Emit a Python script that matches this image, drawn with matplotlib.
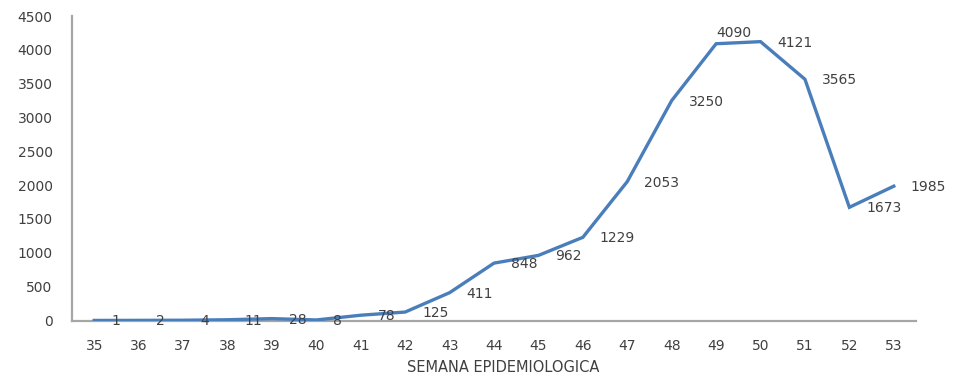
import matplotlib
matplotlib.use("Agg")
import matplotlib.pyplot as plt

# Weekly case counts by epidemiological week
weeks = [35, 36, 37, 38, 39, 40, 41, 42, 43, 44, 45, 46, 47, 48, 49, 50, 51, 52, 53]
cases = [1, 2, 4, 11, 28, 8, 78, 125, 411, 848, 962, 1229, 2053, 3250, 4090, 4121, 3565, 1673, 1985]
y_ticks = [0, 500, 1000, 1500, 2000, 2500, 3000, 3500, 4000, 4500]
x_title = "SEMANA EPIDEMIOLOGICA"

# Label placement (pixel offsets from each point: dx, dy, horizontal alignment)
label_offsets = [(17, -1, "left")] * len(cases)
label_offsets[14] = (18, 11, "center")

LINE_BLUE = "#4A7EBB"
TEXT = "#404040"
AXIS_GREY = "#A6A6A6"

plt.rcParams["font.family"] = ["DejaVu Sans"]

fig = plt.figure(figsize=(9.55, 3.77), dpi=100)
W, H = 955, 377
left, right, top, bottom = 72, 916, 16, 320.5
ax = fig.add_axes([left / W, 1 - bottom / H, (right - left) / W, (bottom - top) / H])

ax.plot(weeks, cases, color=LINE_BLUE, lw=2.4, solid_joinstyle="miter", zorder=3)

for w, c, (dx, dy, ha) in zip(weeks, cases, label_offsets):
    ax.annotate(str(c), (w, c), xytext=(dx, dy), textcoords="offset pixels",
                ha=ha, va="center", fontsize=10, color=TEXT, zorder=4)

ax.set_xlim(weeks[0] - 0.5, weeks[-1] + 0.5)
ax.set_ylim(0, 4500)
ax.set_xticks(weeks)
ax.set_xticklabels([str(w) for w in weeks])
ax.set_yticks(y_ticks)
ax.set_yticklabels([str(v) for v in y_ticks])
ax.tick_params(axis="both", length=0, labelsize=10, colors=TEXT)
ax.tick_params(axis="x", pad=13)
ax.tick_params(axis="y", pad=14)

for s in ["top", "right"]:
    ax.spines[s].set_visible(False)
for s in ["left", "bottom"]:
    ax.spines[s].set_color(AXIS_GREY)
    ax.spines[s].set_linewidth(1.6)

ax.set_xlabel(x_title, fontsize=10.5, color=TEXT)
ax.xaxis.set_label_coords((503 - left) / (right - left), -(368 - bottom) / (bottom - top), transform=ax.transAxes)
ax.xaxis.label.set_va("center")

fig.savefig("out.png", dpi=100)
